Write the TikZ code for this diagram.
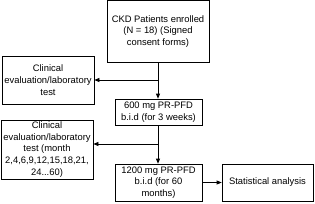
\documentclass[tikz,border=0pt]{standalone}
\usepackage{fontspec}
\setmainfont{Liberation Sans}
\usepackage{tikz}
\usetikzlibrary{arrows.meta, positioning}

\begin{document}
\begin{tikzpicture}[
  x=1pt, y=-1pt,
  box/.style={
    rectangle, draw=black, line width=0.7pt,
    inner sep=1pt, align=center,
    font=\fontsize{9.4}{11.8}\selectfont
  },
  arrow/.style={-{Triangle[length=5pt, width=4pt]}, line width=0.7pt}
]
\useasboundingbox (0,0) rectangle (315,203);

% Aufnahme
\node[box, minimum width=102pt, minimum height=62pt] (ckd) at (158,31.5)
  {CKD Patients enrolled\\(N = 18) (Signed\\consent forms)};

% Kontrollen
\node[box, minimum width=92pt, minimum height=48pt] (eval1) at (48,80)
  {Clinical\\evaluation/laboratory\\test};
\node[box, minimum width=92pt, minimum height=59pt] (eval2) at (47,149.5)
  {Clinical\\evaluation/laboratory\\test (month\\2,4,6,9,12,15,18,21,\\24...60)};

% Dosierung
\node[box, minimum width=87pt, minimum height=26pt] (dose1) at (158.5,112)
  {600 mg PR-PFD\\b.i.d (for 3 weeks)};
\node[box, minimum width=87pt, minimum height=37pt] (dose2) at (158.5,182.5)
  {1200 mg PR-PFD\\b.i.d (for 60\\months)};

% Auswertung
\node[box, minimum width=91pt, minimum height=37pt] (stat) at (267.5,182.5)
  {Statistical analysis};

% Pfeile
\coordinate (b1) at (ckd.south |- eval1.east);
\coordinate (b2) at (158,144);
\draw[arrow] (ckd.south) -- (ckd.south |- dose1.north);
\draw[arrow] (b1) -- (eval1.east);
\draw[arrow] (dose1.south -| ckd.south) -- (ckd.south |- dose2.north);
\draw[arrow] (b2) -- (b2 -| eval2.east);
\draw[arrow] (dose2.east) -- (stat.west);

\end{tikzpicture}
\end{document}
